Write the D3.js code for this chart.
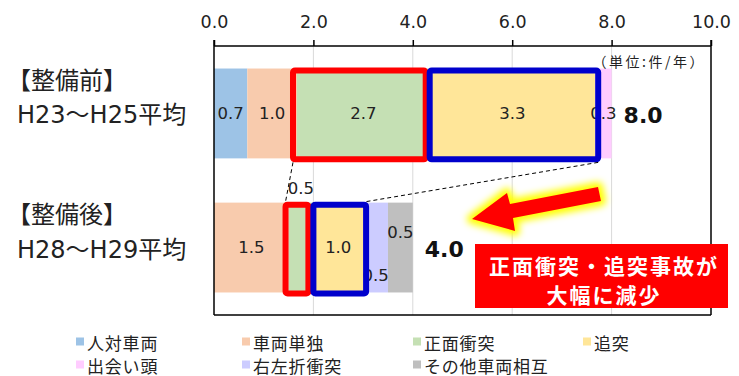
<!DOCTYPE html>
<html><head><meta charset="utf-8">
<script src="https://cdn.jsdelivr.net/npm/d3@7/dist/d3.min.js"></script>
<style>
html,body{margin:0;padding:0;background:#fff;}
text{font-family:"DejaVu Sans","Noto Sans CJK JP",sans-serif;}
</style></head>
<body>
<svg id="chart" width="739" height="376"></svg>
<script>
// ---- data ----
const categoryTitles = ["【整備前】", "【整備後】"];
const categoryPeriods = ["H23～H25平均", "H28～H29平均"];
const seriesNames = ["人対車両", "車両単独", "正面衝突", "追突", "出会い頭", "右左折衝突", "その他車両相互"];
const seriesColors = ["#9DC3E6", "#F8CBAD", "#C5E0B4", "#FFE699", "#FFCCFF", "#CCCCFF", "#BFBFBF"];
const valuesBefore = [0.67, 1.0, 2.67, 3.33, 0.33, 0, 0];
const valuesAfter = [0, 1.5, 0.5, 1.0, 0, 0.5, 0.5];
const totals = [8.0, 4.0];
const xTicks = [0, 2, 4, 6, 8, 10];
const unitLabel = "（単位:件/年）";
const calloutLines = ["正面衝突・追突事故が", "大幅に減少"];

// ---- layout ----
const svg = d3.select("#chart");
const pLeft = 214, pRight = 711, pTop = 46, pBottom = 315;
const x = d3.scaleLinear().domain([0, 10]).range([pLeft, pRight]);
const y = d3.scaleBand().domain([0, 1]).range([pTop, pBottom]).paddingInner(0.33).paddingOuter(0.168);
const allValues = [valuesBefore, valuesAfter];

// gridlines
svg.append("g").selectAll("line").data(xTicks.filter(d => d > 0 && d < 10)).join("line")
  .attr("x1", d => x(d)).attr("x2", d => x(d)).attr("y1", pTop).attr("y2", pBottom)
  .attr("stroke", "#D9D9D9").attr("stroke-width", 1);

// bars
const segs = [];
allValues.forEach((vals, ci) => {
  let acc = 0;
  vals.forEach((v, si) => {
    segs.push({ci, si, v, x0: acc, x1: acc + v});
    acc += v;
  });
});
svg.append("g").selectAll("rect").data(segs.filter(d => d.v > 0)).join("rect")
  .attr("x", d => x(d.x0)).attr("width", d => x(d.x1) - x(d.x0))
  .attr("y", d => y(d.ci)).attr("height", y.bandwidth())
  .attr("fill", d => seriesColors[d.si]);

// segment labels
const labelDy = {"1-2": -y.bandwidth() / 2 - 14, "1-5": 28, "1-6": -15};
svg.append("g").selectAll("text").data(segs.filter(d => d.v > 0)).join("text")
  .attr("x", d => (x(d.x0) + x(d.x1)) / 2)
  .attr("y", d => y(d.ci) + y.bandwidth() / 2 + (labelDy[d.ci + "-" + d.si] || 0))
  .attr("text-anchor", "middle").attr("dominant-baseline", "central")
  .attr("font-size", 16.5).attr("fill", "#222")
  .text(d => d3.format(".1f")(d.v));

// axes frame
const frame = svg.append("g").attr("stroke", "#000").attr("stroke-width", 1.5);
frame.append("line").attr("x1", pLeft).attr("x2", pRight).attr("y1", pTop).attr("y2", pTop);
frame.append("line").attr("x1", pLeft).attr("x2", pRight).attr("y1", pBottom).attr("y2", pBottom);
frame.append("line").attr("x1", pLeft).attr("x2", pLeft).attr("y1", pTop - 6).attr("y2", pBottom);
frame.append("line").attr("x1", pRight).attr("x2", pRight).attr("y1", pTop - 6).attr("y2", pBottom);
const ax = svg.append("g").attr("transform", `translate(0,${pTop})`)
  .call(d3.axisTop(x).tickValues(xTicks).tickFormat(d3.format(".1f")).tickSize(6).tickPadding(12));
ax.select(".domain").remove();
ax.selectAll(".tick line").attr("stroke", "#000").attr("stroke-width", 1.5);
ax.selectAll(".tick text").attr("font-size", 17.5).attr("fill", "#222")
  .style("font-family", "'DejaVu Sans',sans-serif");

// highlight boxes
const segOf = (ci, si) => segs.find(d => d.ci === ci && d.si === si);
const hl = [
  {ci: 0, si: 2, color: "#FF0000", dl: -4, dr: -4},
  {ci: 1, si: 2, color: "#FF0000", dl: -3, dr: -5},
  {ci: 0, si: 3, color: "#0000CC", dl: 0, dr: 3},
  {ci: 1, si: 3, color: "#0000CC", dl: 0, dr: 3}
];
hl.forEach(h => {
  const s = segOf(h.ci, h.si);
  h.x0 = x(s.x0) + h.dl; h.x1 = x(s.x1) + h.dr;
  h.y0 = y(h.ci) + 2; h.y1 = y(h.ci) + y.bandwidth() + 1;
});
svg.append("g").selectAll("rect").data(hl).join("rect")
  .attr("x", d => d.x0).attr("y", d => d.y0)
  .attr("width", d => d.x1 - d.x0).attr("height", d => d.y1 - d.y0)
  .attr("fill", "none").attr("stroke", d => d.color).attr("stroke-width", 6).attr("rx", 2);

// dashed connectors
const conn = [[hl[0].x0, hl[0].y1 + 3, hl[1].x0, hl[1].y0 - 3], [hl[2].x1, hl[2].y1 + 3, hl[3].x1, hl[3].y0 - 3]];
svg.append("g").selectAll("line").data(conn).join("line")
  .attr("x1", d => d[0]).attr("y1", d => d[1]).attr("x2", d => d[2]).attr("y2", d => d[3])
  .attr("stroke", "#000").attr("stroke-width", 1).attr("stroke-dasharray", "4,3");

// totals
svg.append("g").selectAll("text").data(totals).join("text")
  .attr("x", d => x(d) + 12).attr("y", (d, i) => y(i) + y.bandwidth() / 2 + 2)
  .attr("dominant-baseline", "central").attr("font-size", 22).attr("font-weight", "bold")
  .attr("fill", "#111").text(d => d3.format(".1f")(d));

// category labels
categoryTitles.forEach((t, i) => {
  svg.append("text").attr("x", 7).attr("y", y(i) + y.bandwidth() / 2 - 35)
    .attr("dominant-baseline", "central").attr("font-size", 24).attr("fill", "#222")
    .style("font-family", "'Noto Sans CJK JP',sans-serif").text(t);
  svg.append("text").attr("x", 17).attr("y", y(i) + y.bandwidth() / 2 + 2)
    .attr("dominant-baseline", "central").attr("font-size", 24).attr("fill", "#222")
    .text(categoryPeriods[i]);
});

// unit label
svg.append("text").attr("x", pRight - 5).attr("y", 61).attr("text-anchor", "end")
  .attr("dominant-baseline", "central").attr("font-size", 14).attr("letter-spacing", 2.5).attr("fill", "#222")
  .style("font-family", "'Noto Sans CJK JP',sans-serif").text(unitLabel);

// arrow with glow
const defs = svg.append("defs");
const f = defs.append("filter").attr("id", "glow").attr("x", "-30%").attr("y", "-60%").attr("width", "160%").attr("height", "220%");
f.append("feGaussianBlur").attr("stdDeviation", 3.5);
const arrowPts = [[472, 219], [507, 193], [510, 204], [598, 187], [601, 201], [513, 218], [515, 231]];
const ptsStr = arrowPts.map(p => p.join(",")).join(" ");
svg.append("polygon").attr("points", ptsStr).attr("fill", "#FFFF00")
  .attr("stroke", "#FFFF00").attr("stroke-width", 10).attr("stroke-linejoin", "round")
  .attr("filter", "url(#glow)");
svg.append("polygon").attr("points", ptsStr).attr("fill", "#FF0000");

// callout
svg.append("rect").attr("x", 475).attr("y", 244).attr("width", 253).attr("height", 64).attr("fill", "#FF0000");
svg.append("g").selectAll("text").data(calloutLines).join("text")
  .attr("x", 604).attr("y", (d, i) => 265 + i * 29)
  .attr("text-anchor", "middle").attr("dominant-baseline", "central")
  .attr("font-size", 21).attr("font-weight", "bold").attr("fill", "#fff").attr("letter-spacing", 2)
  .style("font-family", "'Noto Sans CJK JP',sans-serif").text(d => d);

// legend
const legCols = [76, 242, 413, 583], legRows = [342, 365];
const leg = svg.append("g").selectAll("g").data(seriesNames).join("g")
  .attr("transform", (d, i) => `translate(${legCols[i % 4]},${legRows[Math.floor(i / 4)]})`);
leg.append("rect").attr("x", 0).attr("y", -4.5).attr("width", 8).attr("height", 8)
  .attr("fill", (d, i) => seriesColors[i]);
leg.append("text").attr("x", 11).attr("y", 0).attr("dominant-baseline", "central")
  .attr("font-size", 17).attr("letter-spacing", 0.8).attr("fill", "#222")
  .style("font-family", "'Noto Sans CJK JP',sans-serif").text(d => d);
</script>
</body></html>
